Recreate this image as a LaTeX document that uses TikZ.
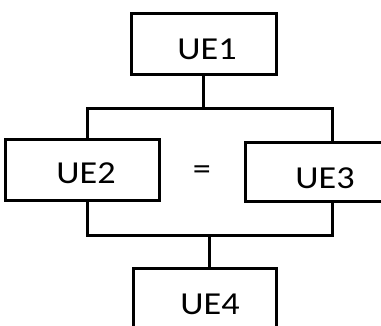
\documentclass[tikz,border=0pt]{standalone}
\usepackage{fontspec}
\setmainfont{Carlito}
\tikzset{
  x=1pt,y=1pt,
  ue/.style={draw=black,line width=3pt,minimum width=#1,inner sep=0pt},
  uetxt/.style={inner sep=0pt,font=\fontsize{32}{36}\selectfont},
  wire/.style={line width=3pt,line cap=rect}
}
\newcommand{\wide}[1]{\scalebox{1.13}[1]{#1}}
\begin{document}
\begin{tikzpicture}
\useasboundingbox (0,0) rectangle (381,325);
\clip (0,0) rectangle (381,325);
\node[ue=145pt,minimum height=61pt] (b1) at (203.5,281.5) {};
\node[ue=154pt,minimum height=61pt] (b2) at (82,155.5) {};
\node[ue=140pt,minimum height=59pt] (b3) at (315,153.5) {};
\node[ue=143pt,minimum height=62pt] (b4) at (204.5,26) {};
\node[uetxt] (t1) at (207,276) {\wide{UE1}};
\node[uetxt] (t2) at (86,152) {\wide{UE2}};
\node[uetxt] (t3) at (325,147) {\wide{UE3}};
\node[uetxt] (t4) at (210,21) {\wide{UE4}};
\node[uetxt] (eq) at (202,152) {\wide{=}};
\coordinate (jl) at (87,217);
\coordinate (jr) at (332,217);
\coordinate (kl) at (87,90);
\coordinate (kr) at (332,90);
\coordinate (km) at (209,90);
\draw[wire] (b1.south) -- (b1.south |- jl);
\draw[wire] (b2.north -| jl) -- (jl) -- (jr) -- (b3.north -| jr);
\draw[wire] (b2.south -| kl) -- (kl) -- (kr) -- (b3.south -| kr);
\draw[wire] (km) -- (km |- b4.north);
\end{tikzpicture}
\end{document}
